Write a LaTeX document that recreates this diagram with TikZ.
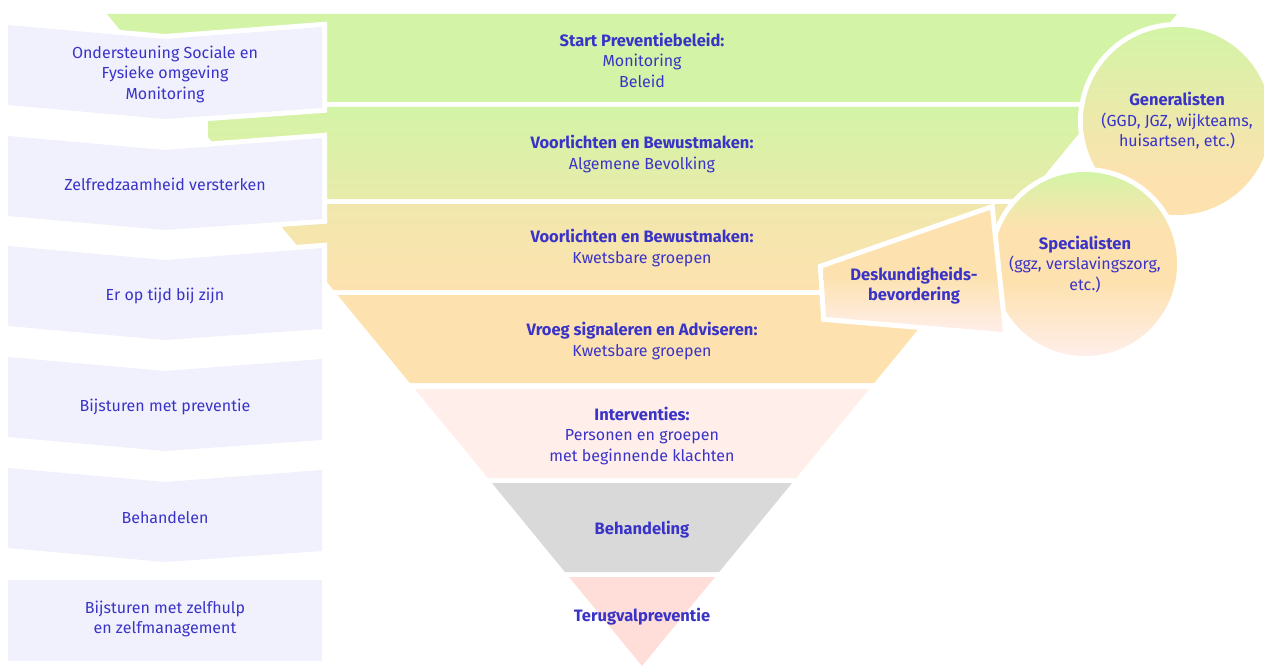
\documentclass[tikz,border=0pt]{standalone}
\usepackage{fontspec}
\setmainfont{Fira Sans}
\definecolor{grn}{HTML}{D3F4A6}
\definecolor{org}{HTML}{FDE2AF}
\definecolor{pnk}{HTML}{FFEEEA}
\definecolor{gry}{HTML}{D9D9D9}
\definecolor{sal}{HTML}{FFDDD8}
\definecolor{lav}{HTML}{F1F1FD}
\definecolor{ink}{HTML}{3A33C8}
\pgfdeclareverticalshading{deskshade}{100bp}{color(0bp)=(pnk); color(25bp)=(pnk); color(48bp)=(org); color(100bp)=(org)}
\pgfdeclareverticalshading{specshade}{100bp}{color(0bp)=(pnk); color(25bp)=(pnk); color(45bp)=(org); color(60bp)=(org); color(75bp)=(grn); color(100bp)=(grn)}
\pgfdeclareverticalshading{genshade}{100bp}{color(0bp)=(org); color(35bp)=(org); color(75bp)=(grn); color(100bp)=(grn)}
\tikzset{
  txt/.style={text=ink, align=center, font=\fontsize{16}{20.5}\selectfont, inner sep=0pt},
  wout/.style={preaction={draw=white, line width=10pt, line join=miter}},
  lbox/.style={fill=lav, wout},
}
\newcommand{\hdtxt}[1]{{\fontsize{16.5}{20.5}\selectfont\bfseries #1}}
\newcommand{\chev}[1]{(8,#1) -- (165,#1+14) -- (322,#1+2) -- (322,#1+83) -- (165,#1+94) -- (8,#1+80) -- cycle}
\begin{document}
\begin{tikzpicture}[x=1pt,y=-1pt]
\useasboundingbox (0,0) rectangle (1264,666);
\clip (0,0) rectangle (1264,666);
% funnel bands
\fill[grn] (107,14) -- (1177,14) -- (1104.8,102) -- (179.2,102) -- cycle;
\shade[top color=grn, bottom color=grn!50!org] (208,107) -- (1100.7,107) -- (1025.2,199) -- (258.8,199) -- (208,137.1) -- cycle;
\shade[top color=grn!30!org, middle color=org, bottom color=org] (262.9,204) -- (1021.1,204) -- (950.5,290) -- (333.5,290) -- cycle;
\fill[org] (337.6,295) -- (946.4,295) -- (874.2,383) -- (409.8,383) -- cycle;
\fill[pnk] (414.7,389) -- (869.3,389) -- (796.2,478) -- (487.8,478) -- cycle;
\fill[gry] (491.9,483) -- (792.1,483) -- (719.1,572) -- (564.9,572) -- cycle;
\fill[sal] (569,577) -- (715,577) -- (642,666) -- cycle;
% band texts
\node[txt] (t1) at (642,60) {\hdtxt{Start Preventiebeleid:}\\Monitoring\\Beleid};
\node[txt] (t2) at (642,154) {\hdtxt{Voorlichten en Bewustmaken:}\\Algemene Bevolking};
\node[txt] (t3) at (642,248) {\hdtxt{Voorlichten en Bewustmaken:}\\Kwetsbare groepen};
\node[txt] (t4) at (642,341) {\hdtxt{Vroeg signaleren en Adviseren:}\\Kwetsbare groepen};
\node[txt] (t5) at (642,436) {\hdtxt{Interventies:}\\Personen en groepen\\met beginnende klachten};
\node[txt] (t6) at (642,530) {\hdtxt{Behandeling}};
\node[txt] (t7) at (642,617) {\hdtxt{Terugvalpreventie}};
% left boxes
\path[lbox] \chev{25};
\path[lbox] \chev{136};
\path[lbox] \chev{246};
\path[lbox] \chev{357};
\path[lbox] \chev{468};
\path[lbox] (8,580) rectangle (322,661);
\node[txt] (l1) at (165,74) {Ondersteuning Sociale en\\Fysieke omgeving\\Monitoring};
\node[txt] (l2) at (165,184.5) {Zelfredzaamheid versterken};
\node[txt] (l3) at (165,295.5) {Er op tijd bij zijn};
\node[txt] (l4) at (165,406.5) {Bijsturen met preventie};
\node[txt] (l5) at (165,517.5) {Behandelen};
\node[txt] (l6) at (165,619) {Bijsturen met zelfhulp\\en zelfmanagement};
% circles
\node[circle, minimum size=188pt, inner sep=0pt, shading=genshade, wout, txt] (gen) at (1177,121) {\hdtxt{Generalisten}\\(GGD, JGZ, wijkteams,\\huisartsen, etc.)};
\node[circle, minimum size=184pt, inner sep=0pt, shading=specshade, wout, txt] (spec) at (1085,264) {\hdtxt{Specialisten}\\(ggz, verslavingszorg,\\etc.)};
% trapezoid
\shade[shading=deskshade, wout] (823,268) coordinate (dA) -- (990,210) coordinate (dB) -- (1003,332) coordinate (dC) -- (826,317) coordinate (dD) -- cycle;
\node[txt] (desk) at (914,285.5) {\hdtxt{Deskundigheids-}\\\hdtxt{bevordering}};
\end{tikzpicture}
\end{document}
